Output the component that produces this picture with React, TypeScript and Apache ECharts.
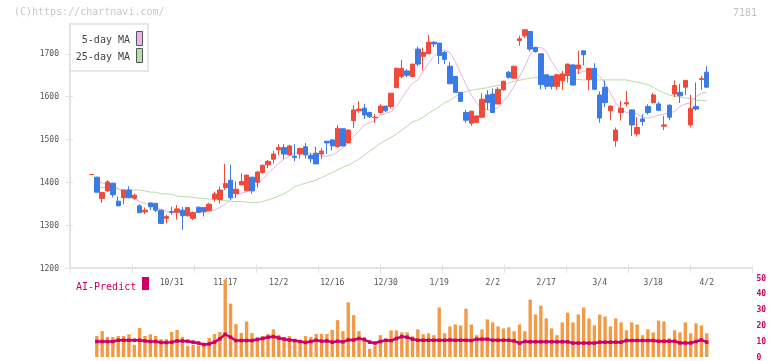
import React, { useEffect, useRef } from 'react';
import * as echarts from 'echarts';

// [open, close, low, high]
const prices: number[][] = [
  [1418,1418,1418,1418],[1412,1377,1376,1413],[1362,1376,1352,1378],[1380,1401,1377,1405],[1398,1371,1365,1399],
  [1356,1345,1345,1367],[1364,1382,1349,1383],[1382,1364,1363,1391],[1363,1370,1359,1374],[1345,1329,1329,1349],
  [1331,1335,1326,1341],[1352,1343,1335,1352],[1351,1335,1330,1352],[1335,1304,1304,1335],[1316,1320,1304,1324],
  [1332,1330,1324,1343],[1330,1338,1313,1347],[1335,1322,1289,1343],[1322,1341,1320,1342],[1316,1329,1312,1332],
  [1342,1330,1328,1343],[1341,1332,1320,1342],[1334,1349,1333,1352],[1361,1373,1355,1378],[1360,1382,1351,1390],
  [1388,1397,1382,1443],[1405,1364,1359,1441],[1374,1384,1363,1402],[1394,1402,1394,1421],[1380,1417,1380,1417],
  [1412,1380,1373,1412],[1400,1424,1388,1426],[1423,1440,1420,1441],[1441,1449,1433,1452],[1454,1466,1444,1474],
  [1476,1481,1464,1489],[1481,1466,1454,1489],[1464,1485,1462,1488],[1461,1458,1449,1489],[1466,1479,1455,1481],
  [1483,1464,1456,1492],[1463,1455,1446,1468],[1468,1443,1443,1483],[1466,1473,1454,1480],[1496,1492,1466,1496],
  [1499,1485,1474,1501],[1483,1526,1481,1534],[1525,1485,1484,1526],[1492,1522,1491,1523],[1544,1569,1527,1580],
  [1567,1571,1562,1589],[1573,1557,1548,1583],[1563,1553,1550,1565],[1551,1552,1539,1559],[1563,1578,1560,1582],
  [1578,1567,1564,1578],[1577,1608,1572,1608],[1621,1666,1621,1668],[1647,1666,1643,1686],[1660,1650,1645,1664],
  [1647,1676,1645,1676],[1711,1676,1671,1717],[1694,1703,1661,1714],[1700,1727,1700,1744],[1727,1723,1716,1730],
  [1725,1696,1676,1725],[1703,1687,1676,1707],[1671,1630,1630,1681],[1647,1610,1610,1648],[1610,1589,1589,1610],
  [1563,1545,1539,1569],[1538,1566,1532,1567],[1540,1555,1538,1556],[1552,1594,1552,1608],[1604,1586,1569,1615],
  [1606,1563,1563,1619],[1583,1617,1582,1622],[1616,1636,1614,1637],[1657,1645,1642,1660],[1643,1671,1643,1672],
  [1731,1735,1719,1742],[1742,1756,1737,1758],[1752,1711,1705,1752],[1715,1705,1703,1716],[1700,1628,1617,1700],
  [1651,1624,1617,1652],[1648,1624,1617,1648],[1624,1651,1616,1652],[1637,1653,1615,1660],[1649,1676,1633,1677],
  [1674,1627,1626,1676],[1665,1674,1653,1707],[1707,1698,1673,1707],[1640,1666,1615,1667],[1666,1617,1617,1678],
  [1604,1550,1539,1612],[1622,1586,1575,1638],[1567,1578,1545,1579],[1497,1522,1483,1528],[1563,1573,1544,1590],
  [1583,1586,1577,1613],[1569,1534,1508,1570],[1513,1528,1507,1552],[1548,1542,1532,1559],[1577,1563,1558,1582],
  [1586,1604,1584,1609],[1583,1568,1566,1587],[1531,1534,1522,1555],[1580,1552,1545,1582],[1606,1626,1599,1638],
  [1610,1602,1585,1630],[1622,1638,1604,1639],[1534,1573,1528,1604],[1577,1571,1567,1633],[1640,1642,1616,1649],
  [1657,1622,1622,1671],
];

const ma5: (number | null)[] = [
  null,
  1399,1399,1394,1394,1386,1376,1368,1363,1355,1351,
  1347,1343,1337,1332,1329,1329,1329,1330,1329,1330,
  1330,1332,1335,1341,1349,1359,1370,1374,1378,1386,
  1396,1408,1421,1433,1444,1454,1461,1468,1470,1470,
  1468,1464,1461,1461,1464,1471,1481,1492,1507,1520,
  1534,1539,1544,1557,1561,1565,1577,1596,1615,1631,
  1639,1659,1678,1694,1706,1709,1703,1682,1655,1628,
  1604,1585,1573,1569,1569,1575,1589,1604,1624,1647,
  1671,1698,1713,1715,1706,1682,1663,1651,1653,1655,
  1655,1659,1663,1659,1647,1631,1608,1585,1569,1563,
  1565,1559,1552,1550,1553,1557,1559,1563,1565,1577,
  1583,1585,1600,1608,1610,
];

const ma25: (number | null)[] = [
  null,
  1388,1388,1388,1388,1384,1382,1382,1382,1382,1380,
  1377,1377,1373,1373,1372,1368,1367,1366,1365,1363,
  1362,1361,1360,1358,1357,1356,1355,1355,1354,1352,
  1353,1355,1359,1363,1368,1373,1381,1390,1394,1398,
  1402,1405,1411,1417,1423,1429,1435,1440,1447,1454,
  1463,1473,1482,1491,1498,1505,1513,1522,1531,1541,
  1545,1552,1561,1569,1577,1586,1591,1600,1608,1612,
  1615,1617,1619,1621,1624,1626,1628,1632,1636,1638,
  1641,1643,1645,1646,1647,1647,1646,1644,1642,1641,
  1640,1639,1639,1639,1639,1639,1639,1639,1639,1639,
  1636,1634,1631,1628,1622,1615,1609,1604,1601,1599,
  1597,1596,1592,1591,1590,
];

const volume: (number | null)[] = [
  null,
  13.3,16.4,12.7,12.7,13.3,13.3,14.4,7.7,18.3,13.3,
  14.4,13.3,11.3,11.3,15.8,17.1,12.7,7.1,7.7,7.1,
  8.3,12.1,14.6,15.8,49,33.8,20.8,15.2,22.5,15.2,
  12.7,13.3,14.6,17.5,14,12.7,13.3,10.8,9.6,13.3,
  12.7,14.6,14.6,14.6,17.1,23.3,16.4,34.6,26.5,16.4,
  12.7,5.2,7.3,13.8,10.6,16.9,16.9,15.6,15.6,13.1,
  17.5,14.4,15,13.8,31.3,15,19.4,20.6,20,30.6,
  20.6,13.8,17.5,23.8,21.9,19.4,18.1,18.8,16.3,20.6,
  16.3,36.3,26.9,32.5,24.4,18.1,13.8,21.9,28.1,21.9,
  26.9,31.3,24.4,20,26.9,25.6,19.4,24.4,21.9,16.9,
  21.9,20.6,13.8,17.5,15.6,23.1,22.5,11.9,16.9,15.6,
  21.9,15,21.3,20,15,
];

const aiPredict: (number | null)[] = [
  null,
  9.8,9.8,9.8,9.8,10.6,10.6,10.6,10.6,10.6,10.2,
  9.8,9.8,9.2,9.2,9.4,10.2,10.2,10.0,9.4,8.8,
  7.9,8.3,9.4,11.5,14.4,12.5,10.4,10.4,10.4,10.4,
  11.0,11.7,12.5,12.9,12.0,11.3,10.8,10.4,9.8,9.2,
  9.8,10.6,10.0,10.2,9.4,10.0,9.6,10.8,10.8,11.7,
  11.0,9.4,8.8,9.8,10.6,10.4,11.7,12.9,12.5,11.3,
  10.6,10.6,10.6,10.6,10.6,10.6,10.8,10.6,10.6,10.6,
  10.4,11.3,11.3,11.3,10.6,10.6,10.6,10.6,10.2,8.8,
  9.8,9.6,9.6,9.6,9.6,9.6,9.6,9.6,9.6,8.8,
  8.8,8.8,8.8,8.8,9.4,9.4,9.4,9.4,9.4,10.4,
  10.4,10.4,10.4,10.4,10.4,10.0,10.0,10.0,10.0,8.9,
  8.9,8.9,9.8,10.8,9.4,
];

const dateLabels = ['10/31', '11/17', '12/2', '12/16', '12/30', '1/19', '2/2', '2/17', '3/4', '3/18', '4/2'];
const dateLabelIndex = [15, 25, 35, 45, 55, 65, 75, 85, 95, 105, 115];
const priceTicks = [1200, 1300, 1400, 1500, 1600, 1700];

const FONT = '"DejaVu Sans Mono", monospace';
const AXIS = '#e3e3e3';
const RED = '#ef4a3a';
const BLUE = '#3c7ae6';
const MAGENTA = '#cc0066';

export default function App() {
  const ref = useRef<HTMLDivElement>(null);
  useEffect(() => {
    if (!ref.current) return;
    const chart = echarts.init(ref.current, undefined, { renderer: 'svg' });
    const cats = prices.map((_, i) => String(i));
    const labelFor = (i: number) => {
      const k = dateLabelIndex.indexOf(i);
      return k >= 0 ? dateLabels[k] : '';
    };
    const frameLeft = 70, frameWidth = 682;
    const dataLeft = 88.8, dataWidth = 620.6;
    const bottomY = 268;
    const pxPerUnit = 0.4284;
    const dataTop = 11, frameTop = 24;
    const dataMax = 1200 + (bottomY - dataTop) / pxPerUnit;
    const frameMax = 1200 + (bottomY - frameTop) / pxPerUnit;
    chart.setOption({
      animation: false,
      textStyle: { fontFamily: FONT },
      grid: [
        { left: frameLeft, width: frameWidth, top: frameTop, height: bottomY - frameTop },
        { left: dataLeft, width: dataWidth, top: dataTop, height: bottomY - dataTop },
        { left: dataLeft, width: dataWidth, top: 278, height: 80 },
      ],
      xAxis: [
        {
          type: 'value', gridIndex: 0, position: 'bottom', min: 0, max: 11, interval: 1,
          axisLine: { show: true, lineStyle: { color: AXIS, width: 2 } },
          axisTick: { show: true, length: 5, lineStyle: { color: AXIS, width: 1 } },
          axisLabel: { show: false }, splitLine: { show: false },
        },
        {
          type: 'value', gridIndex: 0, position: 'bottom', min: 0, max: 11, interval: 1,
          axisLine: { show: false, onZero: false },
          axisTick: { show: true, inside: true, length: 3, lineStyle: { color: AXIS, width: 1 } },
          axisLabel: { show: false }, splitLine: { show: false },
        },
        {
          type: 'category', gridIndex: 1, position: 'bottom', data: cats, boundaryGap: true,
          axisLine: { show: false }, axisTick: { show: false }, splitLine: { show: false },
          axisLabel: {
            interval: (i: number) => dateLabelIndex.includes(i),
            formatter: (_v: string, i: number) => labelFor(i),
            margin: 10, fontSize: 8, color: '#555', fontFamily: FONT,
          },
        },
        { type: 'category', gridIndex: 2, data: cats, boundaryGap: true, show: false },
      ],
      yAxis: [
        {
          type: 'value', gridIndex: 0, position: 'left', min: 1200, max: frameMax, interval: 100,
          axisLine: { show: true, lineStyle: { color: AXIS, width: 2 } },
          axisTick: { show: true, length: 5, customValues: priceTicks, lineStyle: { color: AXIS, width: 1 } },
          axisLabel: {
            customValues: priceTicks, formatter: (v: number) => String(v),
            margin: 11, fontSize: 8, color: '#555', fontFamily: FONT,
          },
          splitLine: { show: false },
        },
        {
          type: 'value', gridIndex: 0, position: 'left', min: 1200, max: frameMax, interval: 100,
          axisLine: { show: false, onZero: false },
          axisTick: { show: true, inside: true, length: 3, customValues: priceTicks, lineStyle: { color: AXIS, width: 1 } },
          axisLabel: { show: false }, splitLine: { show: false },
        },
        { type: 'value', gridIndex: 1, min: 1200, max: dataMax, show: false },
        {
          type: 'value', gridIndex: 2, min: 0, max: 50, interval: 10, position: 'right',
          offset: frameLeft + frameWidth - (dataLeft + dataWidth),
          axisLine: { show: false }, axisTick: { show: false }, splitLine: { show: false },
          axisLabel: { margin: 4.5, fontSize: 8, fontWeight: 'bold', color: MAGENTA, fontFamily: FONT },
        },
      ],
      series: [
        {
          name: '5-day MA', type: 'line', xAxisIndex: 2, yAxisIndex: 2, data: ma5,
          showSymbol: false, z: 2, color: '#e7b1ea',
          lineStyle: { color: '#e7b1ea', width: 1 },
        },
        {
          name: '25-day MA', type: 'line', xAxisIndex: 2, yAxisIndex: 2, data: ma25,
          showSymbol: false, z: 2, color: '#b7dba6',
          lineStyle: { color: '#b7dba6', width: 1 },
        },
        {
          name: 'Price', type: 'candlestick', xAxisIndex: 2, yAxisIndex: 2, data: prices,
          barWidth: '92%', z: 3,
          itemStyle: { color: RED, color0: BLUE, borderColor: RED, borderColor0: BLUE, borderWidth: 1 },
        },
        {
          name: 'Volume', type: 'bar', xAxisIndex: 3, yAxisIndex: 3, data: volume,
          barWidth: '63%', itemStyle: { color: '#f29a46' }, z: 2,
        },
        {
          name: 'AI-Predict', type: 'line', xAxisIndex: 3, yAxisIndex: 3, data: aiPredict,
          symbol: 'rect', symbolSize: 3.5, showSymbol: true, z: 3,
          itemStyle: { color: MAGENTA }, lineStyle: { color: MAGENTA, width: 2.5 },
        },
      ],
      graphic: [
        { type: 'text', left: 14, top: 6, style: { text: '(C)https://chartnavi.com/', font: `10px ${FONT}`, fill: '#c8c8c8' } },
        { type: 'text', x: 757, y: 12, style: { text: '7181', font: `10px ${FONT}`, fill: '#c0c0c0', align: 'right', verticalAlign: 'middle' } },
        { type: 'rect', z: 50, shape: { x: 70, y: 24, width: 78, height: 47 }, style: { fill: '#fff', stroke: '#e0e0e0', lineWidth: 1.5 } },
        { type: 'text', z: 51, x: 130, y: 39.5, style: { text: '5-day MA', font: `10px ${FONT}`, fill: '#444', align: 'right', verticalAlign: 'middle' } },
        { type: 'rect', z: 51, shape: { x: 136.5, y: 31.5, width: 6, height: 14 }, style: { fill: '#ecb4ec', stroke: '#555', lineWidth: 1 } },
        { type: 'text', z: 51, x: 130, y: 56.5, style: { text: '25-day MA', font: `10px ${FONT}`, fill: '#444', align: 'right', verticalAlign: 'middle' } },
        { type: 'rect', z: 51, shape: { x: 136.5, y: 48.5, width: 6, height: 14 }, style: { fill: '#b8dcaa', stroke: '#555', lineWidth: 1 } },
        { type: 'text', x: 76, y: 286, style: { text: 'AI-Predict', font: `10px ${FONT}`, fill: MAGENTA, verticalAlign: 'middle' } },
        { type: 'rect', shape: { x: 142, y: 277, width: 7, height: 13 }, style: { fill: MAGENTA } },
      ],
    });
    return () => chart.dispose();
  }, []);
  return <div ref={ref} style={{ position: 'fixed', left: 0, top: 0, width: 772, height: 361 }} />;
}
